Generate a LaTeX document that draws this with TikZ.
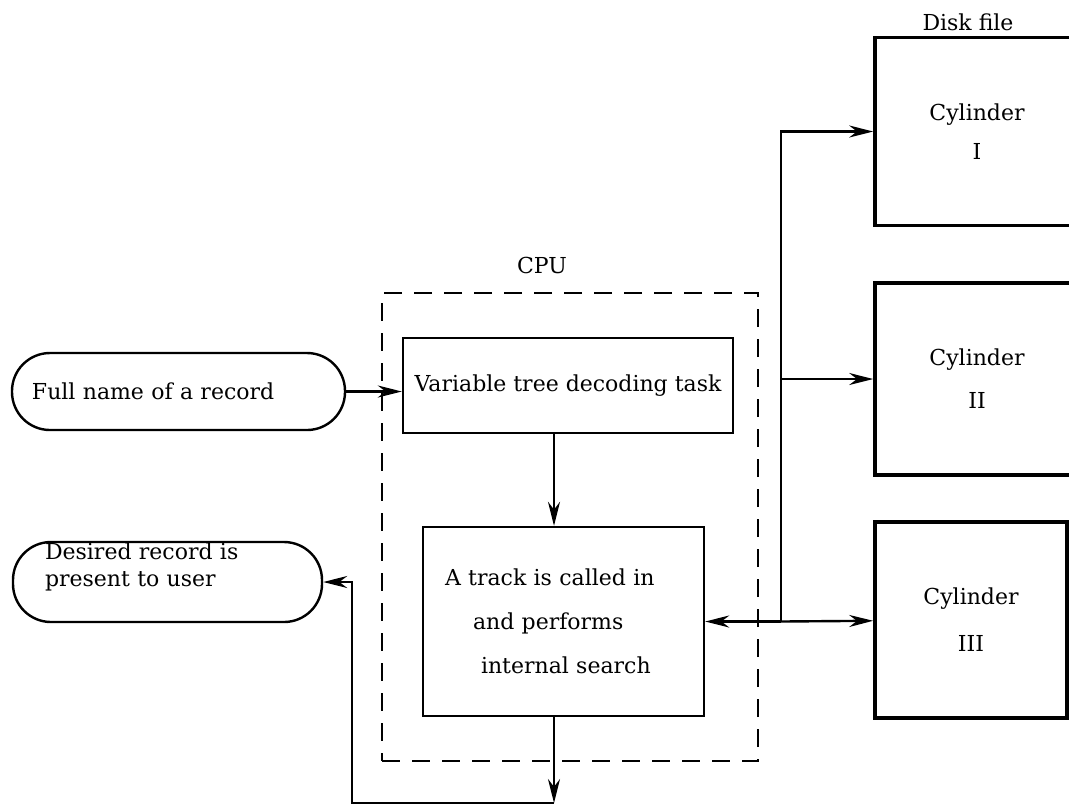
\documentclass[tikz,border=0pt]{standalone}
\usepackage{fontspec}
\setmainfont{DejaVu Serif}
\usetikzlibrary{arrows.meta}

\begin{document}
\begin{tikzpicture}[x=0.5pt,y=-0.5pt,
    flow/.style={draw,line width=1.2pt,-{Stealth[length=12pt,width=6pt]}},
    cylbox/.style={draw,line width=1.8pt,minimum width=102pt,minimum height=94pt,inner sep=0pt,align=center},
    taskbox/.style={draw,line width=1.2pt,inner sep=0pt},
    terminal/.style={draw,line width=1.2pt,rounded corners=19pt,align=left,inner ysep=0pt},
    cpubox/.style={draw,line width=1.3pt,dash pattern=on 9pt off 6pt,minimum width=188pt,minimum height=234pt,inner sep=0pt},
    every node/.style={font=\fontsize{11}{13.5}\selectfont}]
  \useasboundingbox (0,0) rectangle (1069,805);

  \node[cpubox] (cpu) at (570,527) {};
  \node (cpulabel) at (542,265) {CPU};
  \node (disklabel) at (968,22) {Disk file};

  \node[cylbox] (cyl1) at (977,131.5) {Cylinder\\[6pt]I};
  \node[cylbox,minimum height=96pt] (cyl2) at (977,379) {Cylinder\\[8pt]II};
  \node[cylbox,minimum width=96pt,minimum height=98pt] (cyl3) at (971,620) {Cylinder\\[10pt]III};

  \node[taskbox,minimum width=165pt,minimum height=47.5pt] (decode) at (568,385.5) {Variable tree decoding task};
  \node[taskbox,text width=118.5pt,inner xsep=11pt,align=left,minimum height=94.5pt] (track) at (563.5,621.5)
    {A track is called in\\[8.5pt]\hspace*{14pt}and performs\\[8.5pt]\hspace*{18pt}internal search};

  \node[terminal,text width=146.5pt,inner xsep=10pt,minimum height=38.5pt] (name) at (178.5,391.5) {Full name of a record};
  \node[terminal,text width=122.5pt,inner xsep=16pt,minimum height=40pt,text depth=31pt] (user) at (167.5,582)
    {Desired record is\\present to user};

  \coordinate (bus) at (781,621.5);
  \coordinate (out) at (554,803);
  \coordinate (back) at (352,803);

  \draw[flow] (name) -- (name -| decode.west);
  \draw[flow] (decode.south -| out) -- (track.north -| out);
  \draw[flow] (bus) |- (cyl1);
  \draw[flow] (bus |- cyl2) -- (cyl2);
  \draw[flow] (bus) -- (cyl3);
  \draw[flow] (bus) -- (track);
  \draw[flow] (track.south -| out) -- (out);
  \draw[flow] (out) -- (back) |- (user);
\end{tikzpicture}
\end{document}
